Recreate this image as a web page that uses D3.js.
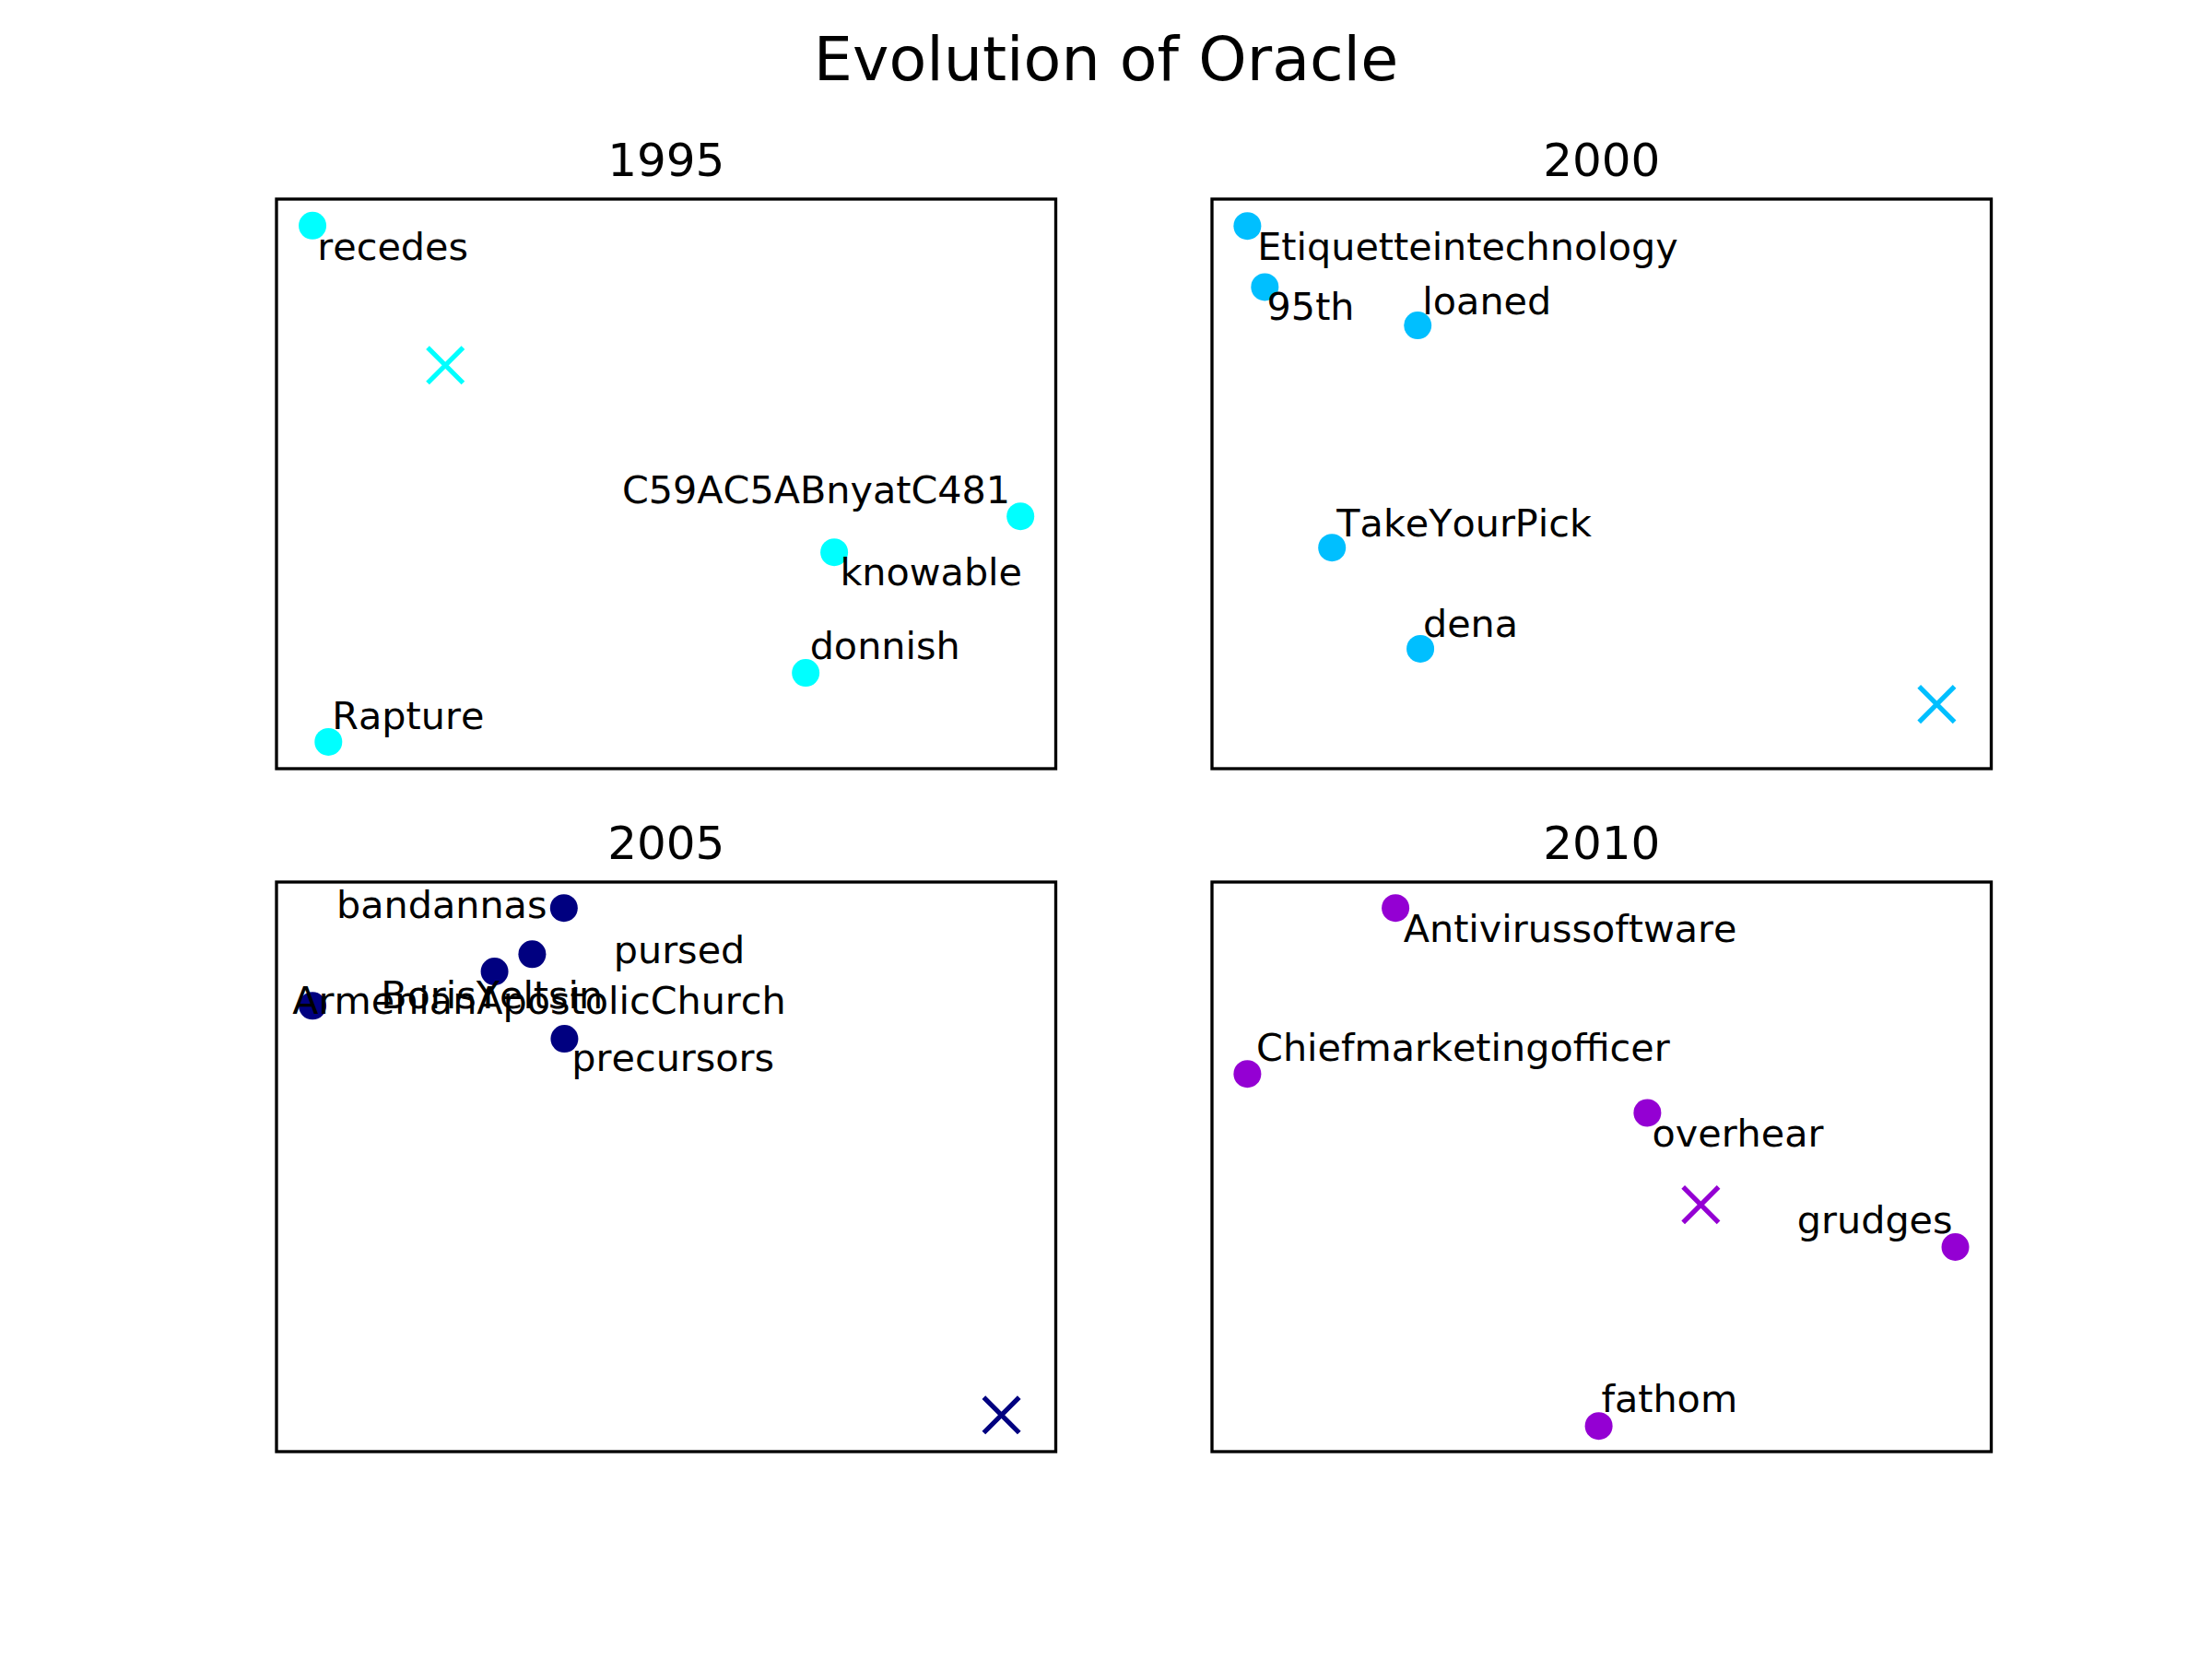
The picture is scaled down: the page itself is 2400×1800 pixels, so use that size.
<!DOCTYPE html>
<html>
<head>
<meta charset="utf-8">
<script src="https://cdnjs.cloudflare.com/ajax/libs/d3/7.8.5/d3.min.js"></script>
<style>
  body{margin:0;background:#ffffff;}
  text{font-family:"DejaVu Sans",sans-serif;fill:#000;font-kerning:none;}
</style>
</head>
<body>
<div id="chart"></div>
<script>
// titulo y paneles
var figTitle = "Evolution of Oracle";
var years = ["1995","2000","2005","2010"];
var colors = ["#00ffff","#00bfff","#000080","#9400d3"];

// valores (escala 0-100 dentro de cada panel)
var words1995 = ["recedes","C59AC5ABnyatC481","knowable","donnish","Rapture"];
var x1995 = [4.62,95.47,71.57,67.91,6.66];
var y1995 = [95.34,44.30,37.99,16.81,4.71];
var labelX1995 = [5.24,44.35,72.32,68.44,7.14];
var labelY1995 = [89.40,46.68,32.20,19.19,6.96];
var centro1995 = [21.67,70.83];

var words2000 = ["Etiquetteintechnology","95th","loaned","TakeYourPick","dena"];
var x2000 = [4.54,6.78,26.40,15.40,26.74];
var y2000 = [95.28,84.56,77.82,38.80,21.05];
var labelX2000 = [5.83,7.05,27.01,16.01,27.08];
var labelY2000 = [89.40,78.77,79.74,40.73,23.12];
var centro2000 = [93.01,11.31];

var words2005 = ["bandannas","pursed","BorisYeltsin","ArmenianApostolicChurch","precursors"];
var x2005 = [36.88,32.81,27.98,4.62,36.95];
var y2005 = [95.44,87.33,84.29,78.27,72.48];
var labelX2005 = [7.69,43.26,13.39,2.05,37.89];
var labelY2005 = [93.64,85.84,77.83,76.93,66.89];
var centro2005 = [93.03,6.42];

var words2010 = ["Antivirussoftware","Chiefmarketingofficer","overhear","grudges","fathom"];
var x2010 = [23.55,4.54,55.87,95.39,49.63];
var y2010 = [95.44,66.31,59.47,35.92,4.50];
var labelX2010 = [24.57,5.69,56.48,75.08,49.96];
var labelY2010 = [89.56,68.61,53.53,38.30,6.88];
var centro2010 = [62.73,43.35];

var W = 2400, H = 1800;
var panelW = 845.5, panelH = 618;
var lefts = [300,1315];
var tops = [216,957];

function armarPanel(i, words, xs, ys, lx, ly, centro){
    var pts = [];
    for (var k = 0; k < words.length; k++) {
        pts.push({ "word": words[k], "x": xs[k], "y": ys[k], "lx": lx[k], "ly": ly[k] });
    }
    return { "year": years[i], "color": colors[i], "pts": pts, "centro": centro };
}

var paneles = [
    armarPanel(0, words1995, x1995, y1995, labelX1995, labelY1995, centro1995),
    armarPanel(1, words2000, x2000, y2000, labelX2000, labelY2000, centro2000),
    armarPanel(2, words2005, x2005, y2005, labelX2005, labelY2005, centro2005),
    armarPanel(3, words2010, x2010, y2010, labelX2010, labelY2010, centro2010)
];

var svg = d3.select("#chart")
    .append("svg")
    .attr("width", W)
    .attr("height", H);

svg.append("rect").attr("width", W).attr("height", H).attr("fill", "#fff");

svg.append("text")
    .attr("x", W / 2)
    .attr("y", 87)
    .attr("text-anchor", "middle")
    .style("font-size", "66.67px")
    .text(figTitle);

var xScale = d3.scaleLinear().domain([0, 100]).range([0, panelW]);
var yScale = d3.scaleLinear().domain([0, 100]).range([panelH, 0]);

function dibujar(p, i){
    var col = i % 2;
    var row = Math.floor(i / 2);
    var g = svg.append("g")
        .attr("transform", "translate(" + lefts[col] + "," + tops[row] + ")");

    g.append("text")
        .attr("x", panelW / 2)
        .attr("y", -25)
        .attr("text-anchor", "middle")
        .style("font-size", "50px")
        .text(p.year);

    // puntos
    g.selectAll("circle.pt")
        .data(p.pts)
        .enter()
        .append("circle")
        .attr("class", "pt")
        .attr("cx", function(d) { return xScale(d.x); })
        .attr("cy", function(d) { return yScale(d.y); })
        .attr("r", 15)
        .attr("fill", p.color);

    // la X del centro
    var cx = xScale(p.centro[0]);
    var cy = yScale(p.centro[1]);
    var s = 19.2;
    g.append("path")
        .attr("d", "M" + (cx - s) + "," + (cy - s) + "L" + (cx + s) + "," + (cy + s) +
                   "M" + (cx - s) + "," + (cy + s) + "L" + (cx + s) + "," + (cy - s))
        .attr("stroke", p.color)
        .attr("stroke-width", 5.2)
        .attr("fill", "none");

    // etiquetas
    g.selectAll("text.lbl")
        .data(p.pts)
        .enter()
        .append("text")
        .attr("class", "lbl")
        .attr("x", function(d) { return xScale(d.lx); })
        .attr("y", function(d) { return yScale(d.ly); })
        .style("font-size", "41.3px")
        .text(function(d) { return d.word; });

    g.append("rect")
        .attr("width", panelW)
        .attr("height", panelH)
        .attr("fill", "none")
        .attr("stroke", "#000")
        .attr("stroke-width", 3.33);
}

paneles.forEach(dibujar);
</script>
</body>
</html>
